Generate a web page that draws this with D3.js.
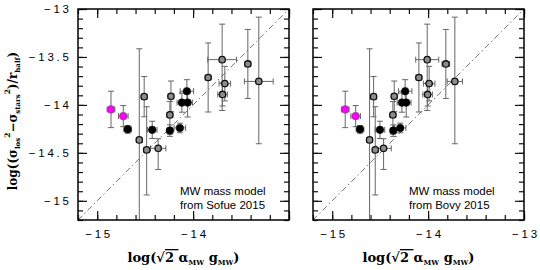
<!DOCTYPE html>
<html>
<head>
<meta charset="utf-8">
<script src="https://cdn.jsdelivr.net/npm/d3@7"></script>
<style>
  body { margin: 0; background: #fff; }
  text { fill: #000; }
</style>
</head>
<body>
<svg id="chart" width="540" height="270"></svg>
<script>
// y values are the same in both panels, only the x (MW model) changes
const kind = ['m', 'm', 'b', 'g', 'g', 'g', 'b', 'g', 'g', 'g', 'b', 'b', 'b', 'b', 'b', 'g', 'g', 'g', 'g', 'g', 'g'];
const yVal = [-14.047, -14.117, -14.255, -14.365, -13.914, -14.469, -14.26, -14.453, -13.911, -14.104, -14.268,
  -14.24, -13.857, -13.976, -13.976, -13.714, -13.528, -13.778, -13.891, -13.573, -13.755];
const yErrUp = [0.19, 0.11, 0.04, 0.95, 0.21, 0.45, 0.09, 0.10, 0.16, 0.14, 0.06,
  0.05, 0.12, 0.10, 0.10, 0.36, 0.37, 0.18, 0.12, 0.36, 0.67];
const yErrDn = [0.19, 0.11, 0.04, 1.00, 0.21, 0.47, 0.09, 0.22, 0.16, 0.20, 0.06,
  0.05, 0.12, 0.10, 0.15, 0.36, 0.53, 0.18, 0.12, 0.36, 0.65];

const xSofue = [-14.856, -14.728, -14.682, -14.561, -14.51, -14.484, -14.426, -14.364, -14.231, -14.242, -14.242,
  -14.138, -14.065, -14.117, -14.057, -13.843, -13.697, -13.669, -13.693, -13.429, -13.315];
const xErrSofue = [0.04, 0.05, 0.04, 0.03, 0.03, 0.03, 0.05, 0.08, 0.03, 0.03, 0.03,
  0.06, 0.07, 0.05, 0.05, 0.03, 0.15, 0.06, 0.05, 0.03, 0.15];

const xBovy = [-14.864, -14.755, -14.71, -14.61, -14.568, -14.551, -14.502, -14.464, -14.353, -14.367, -14.363,
  -14.291, -14.239, -14.273, -14.228, -14.096, -14.009, -13.989, -14.005, -13.815, -13.721];
const xErrBovy = [0.04, 0.05, 0.04, 0.03, 0.03, 0.03, 0.05, 0.08, 0.03, 0.03, 0.03,
  0.06, 0.07, 0.05, 0.05, 0.03, 0.12, 0.06, 0.05, 0.04, 0.08];

const panels = [
  { left: 78, xs: xSofue, xe: xErrSofue, note: 'from Sofue 2015', noteX: 102, yLabels: true, xTicks: [-15, -14] },
  { left: 313, xs: xBovy, xe: xErrBovy, note: 'from Bovy 2015', noteX: 96, yLabels: false, xTicks: [-15, -14, -13] }
];

const domain = [-15.2, -13];
const plotTop = 9, size = 211;
const labelFont = '"Liberation Sans", Arial, sans-serif';
const serif = '"DejaVu Serif", "Liberation Serif", serif';
const fmt = d3.format('');
const spacing = 2.8;

const svg = d3.select('#chart');

const y = d3.scaleLinear().domain(domain).range([size, 0]);

panels.forEach((p, pi) => {
  const x = d3.scaleLinear().domain(domain).range([0, size]);

  const g = svg.append('g')
    .attr('transform', `translate(${p.left}, ${plotTop})`);

  g.append('clipPath').attr('id', 'clip' + pi)
    .append('rect').attr('width', size).attr('height', size);

  // minor ticks, inward on all four sides
  const minorX = d3.range(-15.2, -12.99, 0.2);
  const minorY = d3.range(-15.2, -12.99, 0.1);
  const axes = [
    [d3.axisBottom(x).tickValues(minorX), `translate(0,${size})`],
    [d3.axisTop(x).tickValues(minorX), null],
    [d3.axisLeft(y).tickValues(minorY), null],
    [d3.axisRight(y).tickValues(minorY), `translate(${size},0)`]
  ];
  axes.forEach(([ax, tr]) => {
    const a = g.append('g').call(ax.tickSize(-5).tickFormat(''));
    if (tr) a.attr('transform', tr);
  });

  // major ticks
  const majX = [-15, -14, -13];
  const majY = [-15, -14.5, -14, -13.5, -13];
  const majors = [
    [d3.axisBottom(x).tickValues(majX), `translate(0,${size})`],
    [d3.axisTop(x).tickValues(majX), null],
    [d3.axisLeft(y).tickValues(majY), null],
    [d3.axisRight(y).tickValues(majY), `translate(${size},0)`]
  ];
  majors.forEach(([ax, tr]) => {
    const a = g.append('g').call(ax.tickSize(-9).tickFormat(''));
    if (tr) a.attr('transform', tr);
  });

  g.selectAll('.domain').remove();
  g.selectAll('.tick line').attr('stroke', '#111').attr('stroke-width', 1.2);

  // tick labels
  g.append('g')
    .attr('transform', `translate(0,${size})`)
    .call(d3.axisBottom(x).tickValues(p.xTicks).tickFormat(fmt).tickSize(0).tickPadding(10))
    .call(a => a.select('.domain').remove())
    .selectAll('text')
    .attr('font-family', labelFont).attr('font-size', 11.5)
    .attr('letter-spacing', spacing).attr('dx', spacing / 2).attr('fill', '#000');

  if (p.yLabels) {
    g.append('g')
      .call(d3.axisLeft(y).tickValues(majY).tickFormat(fmt).tickSize(0).tickPadding(9 - spacing))
      .call(a => a.select('.domain').remove())
      .selectAll('text')
      .attr('font-family', labelFont).attr('font-size', 11.5)
      .attr('letter-spacing', spacing).attr('fill', '#000');
  }

  // one-to-one line
  g.append('line')
    .attr('x1', x(domain[0])).attr('y1', y(domain[0]))
    .attr('x2', x(domain[1])).attr('y2', y(domain[1]))
    .attr('stroke', '#777').attr('stroke-width', 1)
    .attr('stroke-dasharray', '6,3,1.5,3');

  const data = yVal.map((v, i) => ({
    x: p.xs[i], y: v, xe: p.xe[i], up: yErrUp[i], dn: yErrDn[i], k: kind[i]
  }));

  const plot = g.append('g').attr('clip-path', `url(#clip${pi})`);

  const bars = plot.selectAll('.err').data(data).enter().append('g')
    .attr('stroke', '#666').attr('stroke-width', 1);

  bars.append('line')
    .attr('x1', d => x(d.x)).attr('x2', d => x(d.x))
    .attr('y1', d => y(d.y + d.up)).attr('y2', d => y(d.y - d.dn));
  bars.append('line')
    .attr('x1', d => x(d.x) - 3).attr('x2', d => x(d.x) + 3)
    .attr('y1', d => y(d.y + d.up)).attr('y2', d => y(d.y + d.up));
  bars.append('line')
    .attr('x1', d => x(d.x) - 3).attr('x2', d => x(d.x) + 3)
    .attr('y1', d => y(d.y - d.dn)).attr('y2', d => y(d.y - d.dn));
  bars.append('line')
    .attr('x1', d => x(d.x - d.xe)).attr('x2', d => x(d.x + d.xe))
    .attr('y1', d => y(d.y)).attr('y2', d => y(d.y));
  bars.append('line')
    .attr('x1', d => x(d.x - d.xe)).attr('x2', d => x(d.x - d.xe))
    .attr('y1', d => y(d.y) - 3).attr('y2', d => y(d.y) + 3);
  bars.append('line')
    .attr('x1', d => x(d.x + d.xe)).attr('x2', d => x(d.x + d.xe))
    .attr('y1', d => y(d.y) - 3).attr('y2', d => y(d.y) + 3);

  const fill = { m: '#ff00ff', b: '#000', g: '#8c8c8c' };
  plot.selectAll('circle').data(data).enter().append('circle')
    .attr('cx', d => x(d.x)).attr('cy', d => y(d.y))
    .attr('r', d => d.k === 'g' ? 3.2 : 3.8)
    .attr('fill', d => fill[d.k])
    .attr('stroke', d => d.k === 'm' ? '#555' : '#111')
    .attr('stroke-width', d => d.k === 'g' ? 1.3 : 0.6);

  // frame
  g.append('rect').attr('width', size).attr('height', size)
    .attr('fill', 'none').attr('stroke', '#000').attr('stroke-width', 1.5);

  // note
  const note = g.append('text')
    .attr('font-family', labelFont).attr('font-size', 11.5).attr('fill', '#333');
  note.append('tspan').attr('x', p.noteX).attr('y', 185.5).text('MW mass model');
  note.append('tspan').attr('x', p.noteX).attr('y', 200).text(p.note);

  // x title
  const xt = g.append('text')
    .attr('x', size / 2).attr('y', 253)
    .attr('text-anchor', 'middle')
    .attr('font-family', serif).attr('font-size', 13).attr('font-weight', 'bold');
  xt.append('tspan').text('log(\u221A');
  xt.append('tspan').attr('text-decoration', 'overline').text('2 ');
  xt.append('tspan').text('\u03B1');
  xt.append('tspan').attr('font-size', 7).attr('dy', 3).text('MW');
  xt.append('tspan').attr('dy', -3).text(' g');
  xt.append('tspan').attr('font-size', 7).attr('dy', 3).text('MW');
  xt.append('tspan').attr('dy', -3).text(')');
});

// y title
const yt = svg.append('text')
  .attr('transform', 'translate(17,121) rotate(-90)')
  .attr('text-anchor', 'middle')
  .attr('font-family', serif).attr('font-size', 12).attr('font-weight', 'bold');
yt.append('tspan').text('log((\u03C3');
yt.append('tspan').attr('font-size', 7).attr('dy', 3).text('los');
yt.append('tspan').attr('font-size', 7.5).attr('dy', -10).text('2');
yt.append('tspan').attr('dy', 7).text('\u2212\u03C3');
yt.append('tspan').attr('font-size', 7).attr('dy', 3).text('stars');
yt.append('tspan').attr('font-size', 7.5).attr('dy', -10).text('2');
yt.append('tspan').attr('dy', 7).text(')/r');
yt.append('tspan').attr('font-size', 7).attr('dy', 3).text('half');
yt.append('tspan').attr('dy', -3).text(')');
</script>
</body>
</html>
